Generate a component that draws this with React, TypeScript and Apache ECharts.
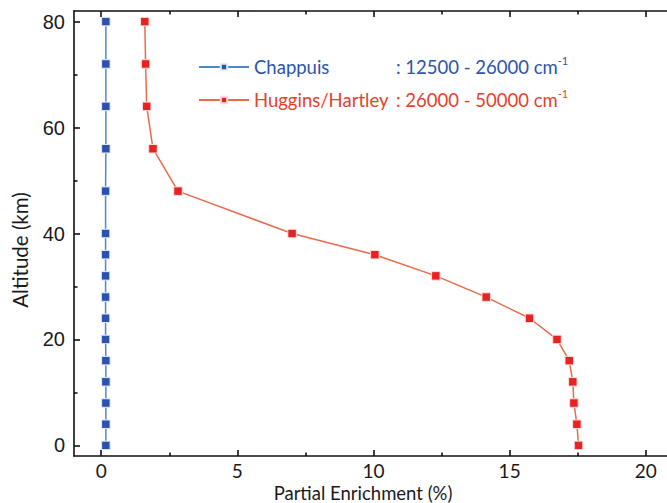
import React, { useEffect, useRef } from "react";
import * as echarts from "echarts";

// Altitudes (km)
const ALTITUDES = [80, 72, 64, 56, 48, 40, 36, 32, 28, 24, 20, 16, 12, 8, 4, 0];
// Partial enrichment (%) — Chappuis band
const CHAPPUIS = [0.17, 0.17, 0.17, 0.17, 0.16, 0.16, 0.16, 0.16, 0.16, 0.16, 0.16, 0.17, 0.17, 0.17, 0.17, 0.17];
// Partial enrichment (%) — Huggins/Hartley band
const HUGGINS = [1.6, 1.63, 1.67, 1.9, 2.82, 7.01, 10.05, 12.29, 14.14, 15.73, 16.74, 17.19, 17.32, 17.36, 17.47, 17.53];

const X_MAJOR = [0, 5, 10, 15, 20];
const X_MINOR = [2.5, 7.5, 12.5, 17.5];
const Y_MAJOR = [0, 20, 40, 60, 80];
const Y_MINOR = [10, 30, 50, 70];

const SERIES_NAMES = ["Chappuis", "Huggins/Hartley"];
const RANGES = [": 12500 - 26000 cm", ": 26000 - 50000 cm"];

const AXIS_COLOR = "#111";

function axis(pos: string, min: number, max: number, ticks: number[], len: number, labels: boolean, line: boolean, font: string, size: number, margin: number): any {
  return {
    type: "value",
    position: pos,
    min,
    max,
    axisLine: { show: line, onZero: false, lineStyle: { color: AXIS_COLOR, width: 1.6 } },
    axisTick: { show: true, inside: true, length: len, customValues: ticks, lineStyle: { color: AXIS_COLOR, width: 1.6 } },
    axisLabel: labels
      ? { show: true, customValues: ticks, color: "#1a1a1a", fontFamily: font, fontSize: size, margin }
      : { show: false },
    splitLine: { show: false },
  };
}

export default function App() {
  const ref = useRef<HTMLDivElement>(null);
  useEffect(() => {
    if (!ref.current) return;
    const chart = echarts.init(ref.current, undefined, { renderer: "svg" });
    const xmin = -1, xmax = 21, ymin = -2, ymax = 82;
    chart.setOption({
      animation: false,
      backgroundColor: "#ffffff",
      grid: { left: 74, top: 11, width: 599, height: 445 },
      xAxis: [
        axis("bottom", xmin, xmax, X_MAJOR, 6, true, true, "Lato", 19, 5),
        axis("bottom", xmin, xmax, X_MINOR, 3.5, false, false, "Lato", 19, 5),
        axis("top", xmin, xmax, X_MAJOR, 6, false, true, "Lato", 19, 5),
        axis("top", xmin, xmax, X_MINOR, 3.5, false, false, "Lato", 19, 5),
      ],
      yAxis: [
        axis("left", ymin, ymax, Y_MAJOR, 6, true, true, "Liberation Sans", 20, 9),
        axis("left", ymin, ymax, Y_MINOR, 3.5, false, false, "Liberation Sans", 20, 9),
        axis("right", ymin, ymax, Y_MAJOR, 6, false, true, "Liberation Sans", 20, 9),
        axis("right", ymin, ymax, Y_MINOR, 3.5, false, false, "Liberation Sans", 20, 9),
      ],
      legend: {
        orient: "vertical",
        left: 198,
        top: 55,
        padding: 0,
        itemWidth: 50,
        itemHeight: 8,
        itemGap: 9,
        selectedMode: false,
        data: [
          { name: SERIES_NAMES[0], textStyle: { color: "#2b53ae" } },
          { name: SERIES_NAMES[1], textStyle: { color: "#e8402c" } },
        ],
        textStyle: {
          fontFamily: "Lato",
          fontSize: 18.5,
          lineHeight: 24,
          rich: {
            n: { width: 142, fontFamily: "Lato", fontSize: 18.5, lineHeight: 24 },
            s: { fontFamily: "Lato", fontSize: 11, verticalAlign: "top", lineHeight: 12 },
          },
        },
        formatter: (name: string) => {
          const i = SERIES_NAMES.indexOf(name);
          return `{n|${name}}${RANGES[i]}{s|-1}`;
        },
      },
      graphic: [
        {
          type: "text",
          x: 20,
          y: 250,
          rotation: Math.PI / 2,
          style: {
            text: "Altitude (km)",
            fontFamily: "Lato",
            fontSize: 20.5,
            fill: "#1a1a1a",
            align: "center",
            verticalAlign: "middle",
          },
        },
        {
          type: "text",
          x: 363,
          y: 492.5,
          style: {
            text: "Partial Enrichment (%)",
            fontFamily: "Lato",
            fontSize: 18.5,
            fill: "#1a1a1a",
            align: "center",
            verticalAlign: "middle",
          },
        },
      ],
      series: [
        {
          name: SERIES_NAMES[0],
          type: "line",
          xAxisIndex: 0,
          yAxisIndex: 0,
          data: ALTITUDES.map((a, i) => [CHAPPUIS[i], a]),
          symbol: "rect",
          symbolSize: 8.5,
          lineStyle: { color: "#4a88d4", width: 1.5 },
          itemStyle: { color: "#2c52b0", borderColor: "#e6ecf8", borderWidth: 1 },
          z: 3,
        },
        {
          name: SERIES_NAMES[1],
          type: "line",
          xAxisIndex: 0,
          yAxisIndex: 0,
          data: ALTITUDES.map((a, i) => [HUGGINS[i], a]),
          symbol: "rect",
          symbolSize: 8.5,
          lineStyle: { color: "#ea6a4a", width: 1.5 },
          itemStyle: { color: "#e82222", borderColor: "#f8e0dc", borderWidth: 1 },
          z: 3,
        },
      ],
    });
    return () => chart.dispose();
  }, []);
  return (
    <div style={{ position: "absolute", left: 0, top: 0, width: 667, height: 503, overflow: "hidden", background: "#fff" }}>
      <div ref={ref} style={{ width: 680, height: 503 }} />
    </div>
  );
}
